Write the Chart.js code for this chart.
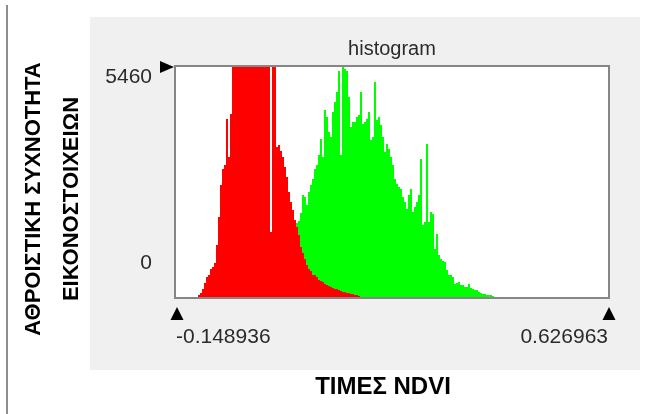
<!DOCTYPE html>
<html>
<head>
<meta charset="utf-8">
<script src="https://cdn.jsdelivr.net/npm/chart.js@4.4.0/dist/chart.umd.min.js"></script>
<style>
  html, body { margin: 0; padding: 0; background: #ffffff; }
  canvas { display: block; }
</style>
</head>
<body>
<canvas id="hist" width="646" height="414"></canvas>
<script>
// NDVI range of the image and histogram settings
const NDVI_MIN = -0.148936;
const NDVI_MAX = 0.626963;
const BIN_COUNT = 216;
const COUNT_MAX = 5460;

const xTickLabels = ['-0.148936', '0.626963'];
const yTickLabels = ['5460', '0'];
const yAxisTitle = ['ΑΘΡΟΙΣΤΙΚΗ ΣΥΧΝΟΤΗΤΑ', 'ΕΙΚΟΝΟΣΤΟΙΧΕΙΩΝ'];
const xAxisTitle = 'ΤΙΜΕΣ NDVI';
const chartTitle = 'histogram';

// pixel counts per NDVI bin, starting at the first non-empty bin of each class
const redFirstBin = 11;
const redCounts = [
  47, 95, 190, 332, 475, 522, 665, 712, 807, 1234, 1899, 2659, 3039, 3134, 4226, 3324, 4344,
  5900, 6400, 6900, 7300, 7600, 7900, 8100, 8200, 8300, 8200, 8100, 7900, 7700, 7400, 7100, 6800, 6500, 6200, 5900,
  1543, 5700, 5600, 3561, 3608, 3466, 3324, 3086, 2849, 2493, 2255, 2065, 1828, 1662, 1472, 1187, 1045, 902, 760,
  665, 617, 522, 522, 475, 404, 380, 356, 309, 285, 261, 237, 214, 190, 190, 166, 142, 119, 119, 95, 95, 71, 71,
  47, 47, 24
];

const greenFirstBin = 59;
const greenCounts = [
  1424, 1757, 1804, 1994, 2421, 2374, 2184, 2493, 2659, 2801,
  3039, 3134, 3371, 3751, 3324, 4439, 4273, 3917, 3798, 4392,
  4629, 4867, 5365, 3371, 5460, 5413, 5365, 4748, 4036, 4154,
  4154, 4273, 4321, 4867, 4107, 4154, 4226, 4392, 3727, 3798,
  5104, 4202, 4273, 4083, 3798, 3442, 3632, 3513, 3324, 3134,
  2801, 2683, 2611, 2564, 2374, 2255, 2089, 2421, 2564, 2018,
  2137, 2255, 2421, 3276, 1709, 1780, 3632, 1780, 2018, 1970,
  1139, 1496, 997, 902, 855, 831, 641, 522, 522, 475,
  309, 332, 356, 285, 285, 237, 237, 309, 214, 190,
  166, 166, 119, 95, 71, 71, 47, 47, 47, 24
];

// place a run of counts into a full-length series of bins (empty bins are 0)
function toSeries(firstBin, counts) {
  const series = new Array(BIN_COUNT).fill(0);
  counts.forEach((v, i) => { series[firstBin + i] = v; });
  return series;
}

const binStep = (NDVI_MAX - NDVI_MIN) / BIN_COUNT;
const binLabels = Array.from({ length: BIN_COUNT }, (_, i) => (NDVI_MIN + i * binStep).toFixed(4));

const FONT = '"Liberation Sans", Arial, sans-serif';

// panel background, plot frame, range markers and outer labels
const histogramFrame = {
  id: 'histogramFrame',
  beforeDraw(chart) {
    const { ctx, chartArea: a } = chart;
    ctx.save();
    ctx.fillStyle = '#ffffff';
    ctx.fillRect(0, 0, chart.width, chart.height);
    ctx.strokeStyle = '#8e8e8e';
    ctx.lineWidth = 2;
    ctx.beginPath();
    ctx.moveTo(7, 5);
    ctx.lineTo(7, chart.height);
    ctx.stroke();
    ctx.fillStyle = '#f0f0f0';
    ctx.fillRect(90, 17, 550, 353);
    ctx.fillStyle = '#ffffff';
    ctx.fillRect(a.left, a.top, a.right - a.left, a.bottom - a.top);
    ctx.restore();
  },
  afterDraw(chart) {
    const { ctx, chartArea: a } = chart;
    const xs = chart.scales.xv;
    const ys = chart.scales.y;
    ctx.save();

    // plot frame
    ctx.strokeStyle = '#868686';
    ctx.lineWidth = 2;
    ctx.strokeRect(a.left - 1, a.top - 1, a.right - a.left + 2, a.bottom - a.top + 2);

    // range markers
    ctx.fillStyle = '#000000';
    [NDVI_MIN, NDVI_MAX].forEach(v => {
      const px = xs.getPixelForValue(v) + 1;
      ctx.beginPath();
      ctx.moveTo(px, a.bottom + 10);
      ctx.lineTo(px + 6.5, a.bottom + 23);
      ctx.lineTo(px - 6.5, a.bottom + 23);
      ctx.closePath();
      ctx.fill();
    });
    const topY = ys.getPixelForValue(COUNT_MAX);
    ctx.beginPath();
    ctx.moveTo(a.left - 16, topY - 6);
    ctx.lineTo(a.left - 2, topY);
    ctx.lineTo(a.left - 16, topY + 6);
    ctx.closePath();
    ctx.fill();

    // count labels
    ctx.fillStyle = '#2b2b2b';
    ctx.font = '21px ' + FONT;
    ctx.textAlign = 'right';
    ctx.textBaseline = 'middle';
    ctx.fillText(yTickLabels[0], a.left - 24, topY + 10);
    ctx.fillText(yTickLabels[1], a.left - 24, ys.getPixelForValue(0) - 34);

    // axis titles
    ctx.fillStyle = '#000000';
    ctx.textAlign = 'center';
    ctx.font = 'bold 22px ' + FONT;
    ctx.translate(34, 199);
    ctx.rotate(-Math.PI / 2);
    ctx.fillText(yAxisTitle[0], 0, 0);
    ctx.fillText(yAxisTitle[1], 0, 38);
    ctx.setTransform(1, 0, 0, 1, 0, 0);
    ctx.font = 'bold 24px ' + FONT;
    ctx.fillText(xAxisTitle, 383, 387);
    ctx.restore();
  }
};

new Chart(document.getElementById('hist'), {
  type: 'bar',
  data: {
    labels: binLabels,
    datasets: [
      {
        label: 'red',
        data: toSeries(redFirstBin, redCounts),
        backgroundColor: '#ff0000',
        borderWidth: 0,
        inflateAmount: 0,
        grouped: false,
        barPercentage: 1,
        categoryPercentage: 1
      },
      {
        label: 'green',
        data: toSeries(greenFirstBin, greenCounts),
        backgroundColor: '#00ff00',
        borderWidth: 0,
        inflateAmount: 0,
        grouped: false,
        barPercentage: 1,
        categoryPercentage: 1
      }
    ]
  },
  options: {
    responsive: false,
    animation: false,
    devicePixelRatio: 1,
    layout: { padding: { left: 176, right: 38, top: 30, bottom: 67 } },
    plugins: {
      legend: { display: false },
      tooltip: { enabled: false },
      title: {
        display: true,
        text: chartTitle,
        fullSize: false,
        color: '#2b2b2b',
        font: { family: FONT, size: 20, weight: 'normal' },
        padding: { top: 7, bottom: 6 }
      }
    },
    scales: {
      x: { display: false },
      xv: {
        type: 'linear',
        position: 'bottom',
        offset: false,
        min: NDVI_MIN,
        max: NDVI_MAX,
        grid: { display: false, drawTicks: false, offset: false },
        border: { display: false },
        afterBuildTicks: s => { s.ticks = [{ value: NDVI_MIN }, { value: NDVI_MAX }]; },
        afterFit: s => { s.height = 50; },
        ticks: {
          align: 'inner',
          autoSkip: false,
          maxRotation: 0,
          padding: 28,
          color: '#2b2b2b',
          font: { family: FONT, size: 21 },
          callback: (v, i) => xTickLabels[i]
        }
      },
      y: { display: false, min: 0, max: COUNT_MAX }
    }
  },
  plugins: [histogramFrame]
});
</script>
</body>
</html>
